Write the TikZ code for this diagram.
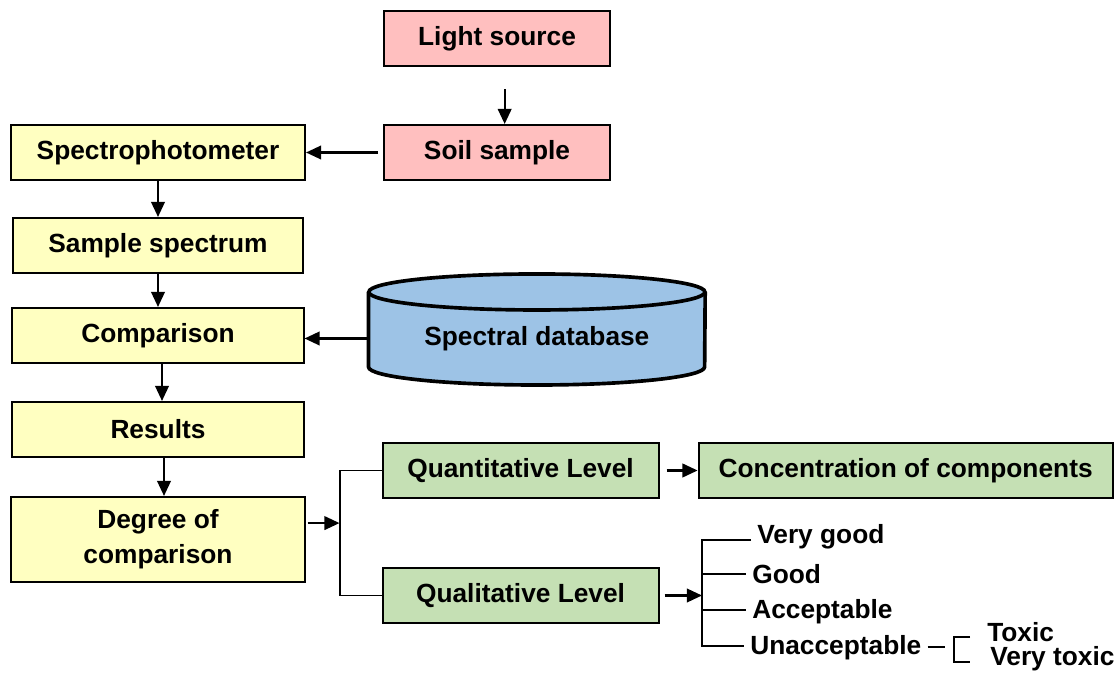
\documentclass[tikz,border=0pt]{standalone}
\usepackage{fontspec}
\setmainfont{Liberation Sans}
\usepackage{tikz}
\usetikzlibrary{shapes,arrows,positioning,calc}
\usetikzlibrary{arrows.meta}
\pgfdeclarelayer{bg}
\pgfsetlayers{bg,main}
\definecolor{lightpink}{RGB}{255,191,191}
\definecolor{paleyellow}{RGB}{255,255,193}
\definecolor{palegreen}{RGB}{197,224,180}
\definecolor{dbblue}{RGB}{157,195,230}
\tikzstyle{line} = [draw, line width=1.6pt, -{Triangle[length=0.38cm,width=0.34cm]}]
\tikzstyle{block} = [draw, rectangle, line width=1.4pt, minimum height=1.375cm, text centered, inner sep=0pt]

\begin{document}
\begin{tikzpicture}[x=0.025cm, y=-0.025cm, font=\bfseries\fontsize{18.7}{24.8}\selectfont]

\tikzset{
    lbl/.style={inner xsep=0.15cm, inner ysep=0pt, anchor=base west},
    cyl/.style={line width=2.6pt},
}

\useasboundingbox (0,0) rectangle (1116,677);

  \node [block, fill=paleyellow, minimum width=7.35cm] (spec) at (158,152.5) {Spectrophotometer};

  \node [block, fill=lightpink, minimum width=5.65cm, right=1.925cm of spec] (soil) {Soil sample};
  \node [block, fill=lightpink, minimum width=5.65cm, above=1.425cm of soil] (light) {Light source};

  \node [block, fill=paleyellow, minimum width=7.225cm, below=0.9cm of spec] (samp) {Sample spectrum};
  \node [block, fill=paleyellow, minimum width=7.275cm, below=0.825cm of samp] (cmp) {Comparison};
  \node [block, fill=paleyellow, minimum width=7.275cm, below=0.925cm of cmp] (res) {Results};
  \node [block, fill=paleyellow, minimum width=7.325cm, minimum height=2.125cm,
  align=center, below=0.95cm of res] (deg) {Degree of\\comparison};

  \node [minimum width=8.4cm, minimum height=1.9cm, inner sep=0pt,
  right=1.6cm of cmp, yshift=-0.075cm] (db) {Spectral database};

  \node [block, fill=palegreen, minimum width=6.9cm,
  right=1.9cm of deg.north east, anchor=south west, yshift=-0.075cm] (quant) {Quantitative Level};
  \node [block, fill=palegreen, minimum width=6.9cm, below=1.7cm of quant] (qual) {Qualitative Level};
  \node [block, fill=palegreen, minimum width=10.35cm, right=0.95cm of quant] (conc) {Concentration of components};

% database drum
\begin{pgfonlayer}{bg}
  \fill [dbblue] ([yshift=1.1625cm]db.west) -- ([yshift=-0.7125cm]db.west)
  arc [start angle=180, end angle=360, x radius=4.2cm, y radius=0.45cm]
  -- ([yshift=1.1625cm]db.east)
  arc [start angle=0, end angle=180, x radius=4.2cm, y radius=0.45cm] -- cycle;
  \draw [cyl] ([yshift=1.1625cm]db.center) ellipse [x radius=4.2cm, y radius=0.45cm];
  \draw [cyl] ([yshift=1.1625cm]db.west) -- ([yshift=-0.7125cm]db.west)
  arc [start angle=180, end angle=360, x radius=4.2cm, y radius=0.45cm]
  -- ([yshift=1.1625cm]db.east);
\end{pgfonlayer}

  \path [line] ([xshift=0.19cm, yshift=-0.55cm]light.south) -- ([xshift=0.19cm]soil.north);
  \path [line] ([xshift=-0.125cm]soil.west) -- (spec.east);
  \path [line] (spec) -- (samp);
  \path [line] (samp) -- (cmp);
  \path [line] ([xshift=0.1cm]cmp.south) -- ([xshift=0.1cm]res.north);
  \path [line] ([xshift=0.15cm]res.south) -- ([xshift=0.15cm]deg.north);
  \path [line] (db.west) -- (db.west -| cmp.east);

% levels
  \draw [line width=1.4pt] (quant.west) -- ++(-42,0) coordinate (fork) |- (qual.west);
  \path [line] ([xshift=0.05cm, yshift=0.41cm]deg.east) -- +(0.8cm,0);
  \path [line] ([xshift=0.175cm]quant.east) -- (conc.west);

  \node [lbl] (vgood) at (751,543) {Very good};
  \node [lbl] (good) at (746,583) {Good};
  \node [lbl] (acc) at (746,618) {Acceptable};
  \node [lbl] (unacc) at (744,654) {Unacceptable};
  \node [lbl] (toxic) at (981,641) {Toxic};
  \node [lbl] (vtoxic) at (984,665) {Very toxic};

  \coordinate (qtop) at (702,540);
  \coordinate (qgood) at (702,574);
  \coordinate (qacc) at (702,610);
  \coordinate (qbot) at (702,646);
  \path [line] ([xshift=0.125cm]qual.east) -- (qual.east -| qtop);
  \draw [line width=1.4pt] (qtop -| vgood.west) -- (qtop) -- (qbot) -- (qbot -| unacc.west);
  \draw [line width=1.4pt] (qgood) -- (qgood -| good.west);
  \draw [line width=1.4pt] (qacc) -- (qacc -| acc.west);

  \draw [line width=1.4pt] (unacc.east) -- ++(17,0);
  \draw [line width=1.4pt] (970,637) -| (954,662) -- (970,662);

\end{tikzpicture}
\end{document}
